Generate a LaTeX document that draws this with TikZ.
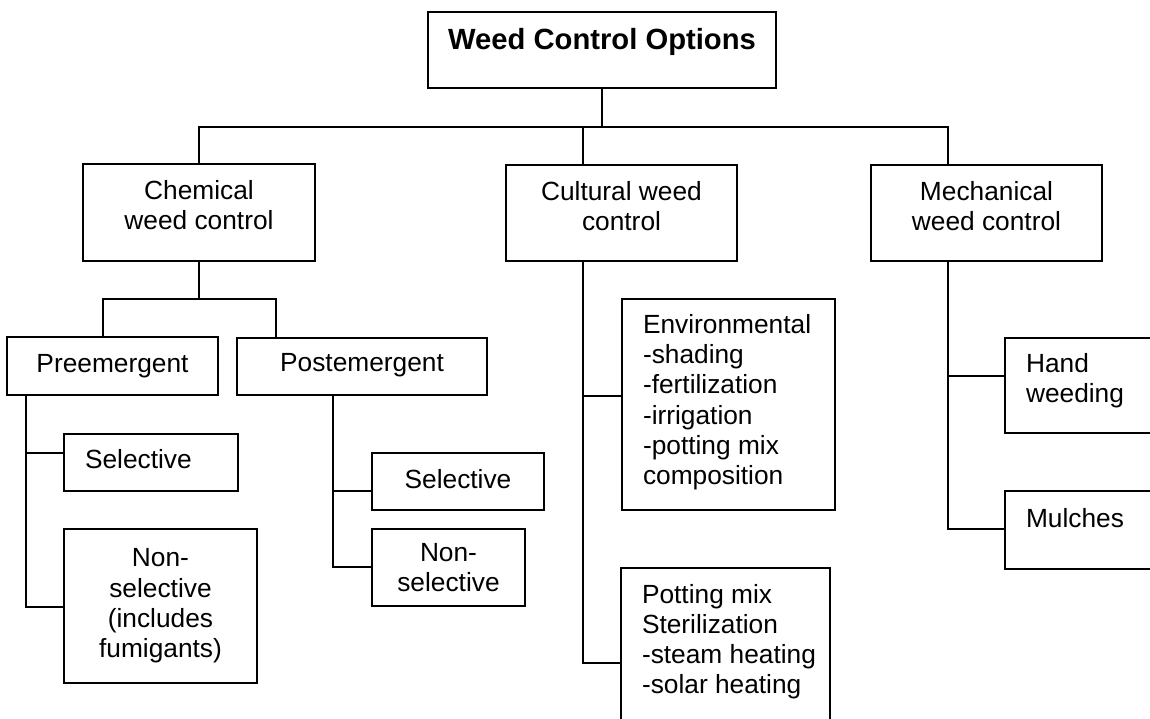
\documentclass[tikz,border=0pt]{standalone}
\usepackage{fontspec}
\setmainfont{Liberation Sans}

\newcommand{\lowpad}[1]{\rule[-#1]{0pt}{#1}}

\tikzset{
  box/.style={draw, line width=2pt, inner sep=0pt, align=center,
    font=\fontsize{26.3}{30.3}\selectfont},
  boxl/.style={box, align=flush left, inner xsep=21pt},
  headbox/.style={box, font=\fontsize{29.2}{33}\selectfont\bfseries},
  link/.style={line width=1.7pt}
}

\begin{document}
\begin{tikzpicture}[x=1pt,y=-1pt]
                \fill[white] (0,0) rectangle (1150,719);
                \useasboundingbox (0,0) rectangle (1150,719);
                \clip (0,0) rectangle (1150,719);
                % top level
                \node[headbox, minimum width=348pt, minimum height=76pt] (title) at (602,50) {Weed Control Options\lowpad{21.5pt}};
                \node[box, minimum width=232pt, minimum height=97pt] (chem) at (199,212.5) {Chemical\\weed control\lowpad{14.5pt}};
                \node[box, minimum width=231pt, minimum height=96pt] (cult) at (621.5,213) {Cultural weed\\control\lowpad{14.5pt}};
                \node[box, minimum width=231pt, minimum height=96pt] (mech) at (986.5,213) {Mechanical\\weed control\lowpad{14.5pt}};
                % chemical branch
                \node[box, minimum width=211pt, minimum height=58pt] (pre) at (112.5,366) {Preemergent};
                \node[box, minimum width=250pt, minimum height=57pt] (post) at (362,366.5) {Postemergent\lowpad{8pt}};
                \node[boxl, text width=132pt, minimum height=57pt] (presel) at (151,462.5) {Selective\lowpad{8pt}};
                \node[box, minimum width=193pt, minimum height=154pt] (prenon) at (160.5,606) {Non-\\selective\\(includes\\fumigants)};
                \node[box, minimum width=172pt, minimum height=57pt] (postsel) at (458,481.5) {Selective\lowpad{6pt}};
                \node[box, minimum width=153pt, minimum height=77pt] (postnon) at (448.5,567.5) {Non-\\selective};
                % cultural branch
                \node[boxl, text width=171pt, minimum height=211pt] (env) at (728.5,404.5) {Environmental\\-shading\\-fertilization\\-irrigation\\-potting mix\\composition\lowpad{10pt}};
                \node[boxl, text width=167pt, minimum height=192pt] (pot) at (725.5,664) {Potting mix\\Sterilization\\\mbox{-steam heating}\\\mbox{-solar heating}\lowpad{50pt}};
                % mechanical branch
                \node[boxl, text width=153pt, minimum height=95pt] (hand) at (1102.5,385.5) {Hand\\weeding\lowpad{15pt}};
                \node[boxl, text width=153pt, minimum height=78pt] (mulch) at (1102.5,530) {Mulches\lowpad{25pt}};
                % joints
                \coordinate (hub) at (602,127);
                \coordinate (cultstem) at (583,165);
                \coordinate (mechstem) at (948,165);
                \coordinate (chemhub) at (199,299);
                \coordinate (prestem) at (103,337);
                \coordinate (poststem) at (276,338);
                \coordinate (pretrunk) at (26,395);
                \coordinate (preselin) at (64,453);
                \coordinate (prenonin) at (64,607);
                \coordinate (posttrunk) at (333,395);
                \coordinate (postselin) at (372,491);
                \coordinate (postnonin) at (372,567);
                \coordinate (cultfoot) at (583,261);
                \coordinate (envin) at (622,396);
                \coordinate (potin) at (621,663);
                \coordinate (mechfoot) at (948,261);
                \coordinate (handin) at (1005,376);
                \coordinate (mulchin) at (1005,529);
                % connectors
                \draw[link] (title.south) -- (hub);
                \draw[link] (chem.north) |- (mechstem |- hub) -- (mechstem);
                \draw[link] (cultstem) -- (cultstem |- hub);
                \draw[link] (chem.south) -- (chemhub);
                \draw[link] (prestem) |- (poststem |- chemhub) -- (poststem);
                \draw[link] (pretrunk) |- (preselin);
                \draw[link] (pretrunk) |- (prenonin);
                \draw[link] (posttrunk) |- (postselin);
                \draw[link] (posttrunk) |- (postnonin);
                \draw[link] (cultfoot) |- (envin);
                \draw[link] (cultfoot) |- (potin);
                \draw[link] (mechfoot) |- (handin);
                \draw[link] (mechfoot) |- (mulchin);
            \end{tikzpicture}
\end{document}
